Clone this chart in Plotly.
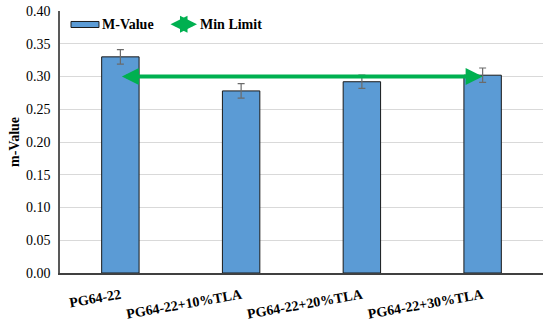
import plotly.graph_objects as go

categories = ["PG64-22", "PG64-22+10%TLA", "PG64-22+20%TLA", "PG64-22+30%TLA"]
m_values = [0.330, 0.278, 0.292, 0.302]
m_errors = [0.011, 0.011, 0.010, 0.011]
min_limit = 0.30
y_ticks = [0.00, 0.05, 0.10, 0.15, 0.20, 0.25, 0.30, 0.35, 0.40]

FONT = "Liberation Serif"
BLUE = "#5B9BD5"
GREEN = "#00B050"

fig = go.Figure()
fig.add_trace(go.Bar(
    x=categories, y=m_values, width=0.31,
    marker=dict(color=BLUE, line=dict(color="#1a1a1a", width=1)),
    error_y=dict(type="data", array=m_errors, color="#6b6b6b", thickness=1.2, width=3.5),
    showlegend=False, name="M-Value",
))

# Min limit double arrow across categories
fig.add_annotation(
    x=len(categories) - 1, y=min_limit, ax=0, ay=min_limit,
    xref="x", yref="y", axref="x", ayref="y",
    showarrow=True, arrowhead=2, arrowside="end+start", arrowsize=0.85,
    arrowwidth=4, arrowcolor=GREEN, text="",
)

# Custom legend
fig.add_shape(type="rect", xref="paper", yref="paper",
              x0=0.0228, x1=0.0807, y0=0.937, y1=0.960,
              fillcolor=BLUE, line=dict(color="#1a1a1a", width=1))
fig.add_annotation(x=0.083, y=0.949, xref="paper", yref="paper", text="<b>M-Value</b>",
                   showarrow=False, xanchor="left", yanchor="middle",
                   font=dict(family=FONT, size=14, color="black"))
fig.add_annotation(x=0.2836, y=0.949, xref="paper", yref="paper", ax=-28, ay=0,
                   text="", showarrow=True, arrowhead=2, arrowside="end+start",
                   arrowsize=0.85, arrowwidth=4, arrowcolor=GREEN)
fig.add_annotation(x=0.286, y=0.949, xref="paper", yref="paper", text="<b>Min Limit</b>",
                   showarrow=False, xanchor="left", yanchor="middle",
                   font=dict(family=FONT, size=14, color="black"))

fig.update_layout(
    width=550, height=322,
    margin=dict(l=60, r=7, t=11, b=49),
    paper_bgcolor="white", plot_bgcolor="white",
    font=dict(family=FONT, size=14, color="black"),
    bargap=0.69,
)
fig.update_xaxes(
    type="category", tickangle=-10, showgrid=False,
    showline=True, linecolor="#404040", linewidth=1.5,
    ticks="", tickfont=dict(family=FONT, size=14, color="black"),
    tickprefix="<b>", ticksuffix="</b>", automargin=False,
    ticklabelstandoff=7,
)
fig.update_yaxes(
    range=[0, 0.40], tickvals=y_ticks, tickformat=".2f",
    showgrid=True, gridcolor="#d9d9d9", gridwidth=1,
    showline=True, linecolor="#595959", linewidth=1.5,
    zeroline=False, ticks="", automargin=False,
    tickfont=dict(family=FONT, size=14, color="black"),
    tickprefix="<b>", ticksuffix="</b>", ticklabelstandoff=5,
    title=dict(text="<b>m-Value</b>", font=dict(family=FONT, size=14, color="black"), standoff=3),
)

fig.write_html("out.html", config={"displayModeBar": False},
               post_script="document.body.style.margin='0px';")
